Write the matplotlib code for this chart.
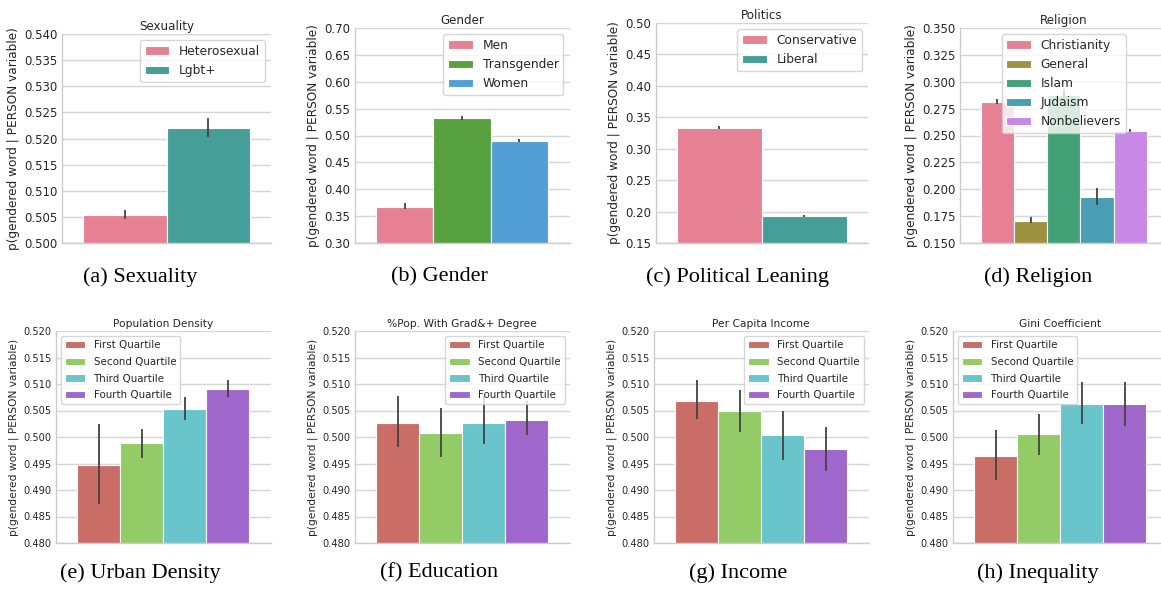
import matplotlib
matplotlib.use("Agg")
import matplotlib.pyplot as plt
import seaborn as sns
from matplotlib.ticker import MultipleLocator, FormatStrFormatter

# ---- data ----
sex_labels = ["Heterosexual", "Lgbt+"]
sex_means = [0.5054, 0.5221]
sex_lo = [0.5046, 0.5203]
sex_hi = [0.5063, 0.5240]

gender_labels = ["Men", "Transgender", "Women"]
gender_means = [0.3676, 0.5320, 0.4905]
gender_lo = [0.3630, 0.5295, 0.4880]
gender_hi = [0.3740, 0.5364, 0.4935]

pol_labels = ["Conservative", "Liberal"]
pol_means = [0.3335, 0.1924]
pol_lo = [0.3310, 0.1908]
pol_hi = [0.3360, 0.1950]

rel_labels = ["Christianity", "General", "Islam", "Judaism", "Nonbelievers"]
rel_means = [0.2812, 0.1708, 0.2880, 0.1928, 0.2539]
rel_lo = [0.2793, 0.1686, 0.2835, 0.1850, 0.2530]
rel_hi = [0.2837, 0.1745, 0.2930, 0.2009, 0.2561]

quart_labels = ["First Quartile", "Second Quartile", "Third Quartile", "Fourth Quartile"]

dens_means = [0.4948, 0.4989, 0.5053, 0.5090]
dens_lo = [0.4874, 0.4961, 0.5033, 0.5075]
dens_hi = [0.5024, 0.5016, 0.5075, 0.5107]

edu_means = [0.5026, 0.5008, 0.5027, 0.5033]
edu_lo = [0.4982, 0.4962, 0.4986, 0.5003]
edu_hi = [0.5078, 0.5055, 0.5078, 0.5067]

inc_means = [0.5067, 0.5049, 0.5003, 0.4977]
inc_lo = [0.5034, 0.5009, 0.4956, 0.4935]
inc_hi = [0.5108, 0.5088, 0.5050, 0.5019]

gini_means = [0.4965, 0.5005, 0.5063, 0.5063]
gini_lo = [0.4918, 0.4966, 0.5024, 0.5020]
gini_hi = [0.5013, 0.5044, 0.5104, 0.5104]

YLABEL = "p(gendered word | PERSON variable)"

W, H = 1161, 589
fig = plt.figure(figsize=(W / 100, H / 100), dpi=100)


def make_ax(left, width, top, bottom):
    return fig.add_axes([left / W, 1 - bottom / H, width / W, (bottom - top) / H])


def draw_panel(ax, labels, means, lo, hi, colors, title, ylim, step, fmt,
               loc, tick_fs, lab_fs, title_fs, leg_fs, leg_space=0.5):
    n = len(labels)
    bw = 0.8 / n
    for i in range(n):
        x = -0.4 + (i + 0.5) * bw
        ax.bar(x, means[i] - ylim[0], bottom=ylim[0], width=bw, color=colors[i],
               edgecolor="white", linewidth=0.8, label=labels[i], zorder=2)
        ax.plot([x, x], [lo[i], hi[i]], color="#424242", lw=1.3, zorder=3,
                solid_capstyle="butt")
    ax.set_xlim(-0.5, 0.5)
    ax.set_ylim(*ylim)
    ax.yaxis.set_major_locator(MultipleLocator(step))
    ax.yaxis.set_major_formatter(FormatStrFormatter(fmt))
    ax.set_xticks([])
    ax.grid(axis="y", color="#d5d5d5", lw=1, zorder=0)
    ax.set_axisbelow(True)
    for s in ["top", "right"]:
        ax.spines[s].set_visible(False)
    for s in ["left", "bottom"]:
        ax.spines[s].set_color("#cccccc")
        ax.spines[s].set_linewidth(1)
    ax.tick_params(axis="y", length=0, labelsize=tick_fs, colors="#262626", pad=3)
    ax.set_ylabel(YLABEL, fontsize=lab_fs, color="#262626", labelpad=3)
    ax.set_title(title, fontsize=title_fs, color="#262626", pad=3)
    leg = ax.legend(loc=loc, fontsize=leg_fs, framealpha=0.8, edgecolor="#cccccc",
                    fancybox=True, labelspacing=leg_space)
    for t in leg.get_texts():
        t.set_color("#262626")


husl2 = sns.color_palette("husl", 2, desat=0.75)
husl3 = sns.color_palette("husl", 3, desat=0.75)
husl5 = sns.color_palette("husl", 5, desat=0.75)
hls4 = sns.color_palette("hls", 4, desat=0.75)

# top row
ax = make_ax(62, 209, 34, 243)
draw_panel(ax, sex_labels, sex_means, sex_lo, sex_hi, husl2, "Sexuality",
           (0.500, 0.540), 0.005, "%.3f", "upper right", 8.5, 8.7, 8.6, 8.8)
ax = make_ax(354.5, 215, 28, 243)
draw_panel(ax, gender_labels, gender_means, gender_lo, gender_hi, husl3, "Gender",
           (0.30, 0.70), 0.05, "%.2f", "upper right", 8.5, 8.7, 8.6, 8.8)
ax = make_ax(655.5, 212.5, 23, 243)
draw_panel(ax, pol_labels, pol_means, pol_lo, pol_hi, husl2, "Politics",
           (0.15, 0.50), 0.05, "%.2f", "upper right", 8.5, 8.7, 8.6, 8.8)
ax = make_ax(960, 207.5, 28, 243)
draw_panel(ax, rel_labels, rel_means, rel_lo, rel_hi, husl5, "Religion",
           (0.150, 0.350), 0.025, "%.3f", "upper center", 8.5, 8.7, 8.6, 8.8)

# bottom row
bottom_panels = [
    (55.5, dens_means, dens_lo, dens_hi, "Population Density", "upper left"),
    (354.5, edu_means, edu_lo, edu_hi, "%Pop. With Grad&+ Degree", "upper right"),
    (653.5, inc_means, inc_lo, inc_hi, "Per Capita Income", "upper right"),
    (952.5, gini_means, gini_lo, gini_hi, "Gini Coefficient", "upper left"),
]
for left, m, lo, hi, title, loc in bottom_panels:
    ax = make_ax(left, 215.5, 331, 543)
    draw_panel(ax, quart_labels, m, lo, hi, hls4, title, (0.480, 0.520), 0.005,
               "%.3f", loc, 7.1, 7.7, 7.7, 7.4, leg_space=0.65)

captions_top = ["(a) Sexuality", "(b) Gender", "(c) Political Leaning", "(d) Religion"]
captions_bottom = ["(e) Urban Density", "(f) Education", "(g) Income", "(h) Inequality"]
cap_x = [140, 439, 738, 1038]
for x, c in zip(cap_x, captions_top):
    fig.text(x / W, 1 - 277 / H, c, ha="center", va="center",
             family="Liberation Serif", fontsize=16)
for x, c in zip(cap_x, captions_bottom):
    fig.text(x / W, 1 - 573 / H, c, ha="center", va="center",
             family="Liberation Serif", fontsize=16)

fig.savefig("out.png", dpi=100)
